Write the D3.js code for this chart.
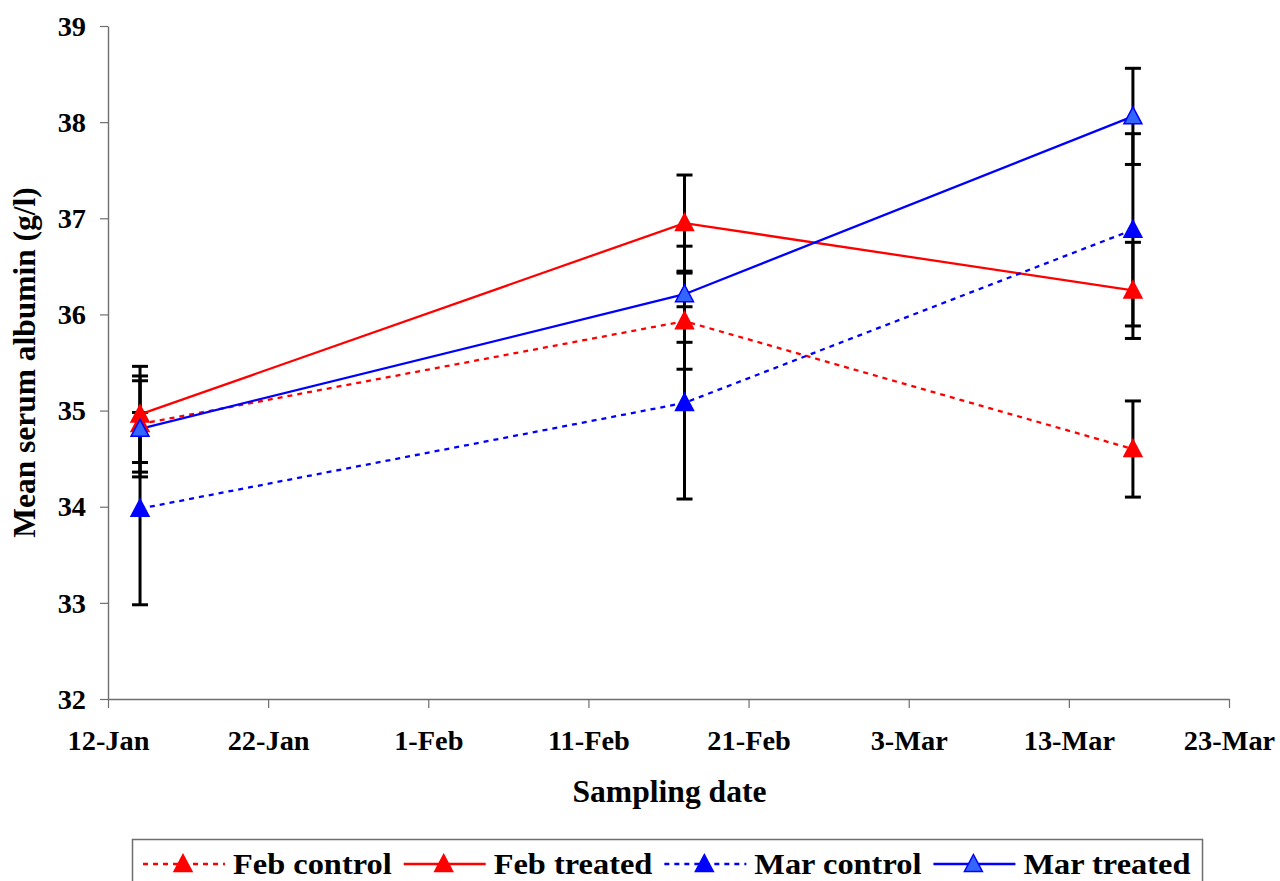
<!DOCTYPE html>
<html>
<head>
<meta charset="utf-8">
<script src="https://cdn.jsdelivr.net/npm/d3@7"></script>
<style>
  html, body { margin: 0; padding: 0; background: #fff; }
  svg { display: block; }
  text { font-family: "Liberation Serif", "Times New Roman", serif; font-weight: bold; fill: #000; }
</style>
</head>
<body>
<svg id="chart" width="1280" height="881"></svg>
<script>
// Sampling dates and tick labels
const sampleDates = ["2003-01-14", "2003-02-17", "2003-03-17"];
const tickDates = ["2003-01-12", "2003-01-22", "2003-02-01", "2003-02-11",
                   "2003-02-21", "2003-03-03", "2003-03-13", "2003-03-23"];
const yTicks = [32, 33, 34, 35, 36, 37, 38, 39];

// Mean serum albumin (g/l) per group
const febControl = [34.86, 35.93, 34.60];
const febTreated = [34.96, 36.95, 36.25];
const marControl = [33.98, 35.08, 36.88];
const marTreated = [34.81, 36.21, 38.06];

// Error bar half-widths (g/l)
const febControlErr = [0.5, 0.5, 0.5];
const febTreatedErr = [0.5, 0.5, 0.5];
const marControlErr = [1.0, 1.0, 1.0];
const marTreatedErr = [0.5, 0.5, 0.5];

const seriesNames = ["Feb control", "Feb treated", "Mar control", "Mar treated"];

const parse = d3.timeParse("%Y-%m-%d");
const fmt = d3.timeFormat("%-d-%b");

const series = [
  { name: seriesNames[0], values: febControl, err: febControlErr, stroke: "#ff0000", fill: "#ff0000", dash: "5,5" },
  { name: seriesNames[1], values: febTreated, err: febTreatedErr, stroke: "#ff0000", fill: "#ff0000", dash: null },
  { name: seriesNames[2], values: marControl, err: marControlErr, stroke: "#0000ff", fill: "#0000ff", dash: "5,5" },
  { name: seriesNames[3], values: marTreated, err: marTreatedErr, stroke: "#0000ff", fill: "#3366ff", dash: null }
];

const svg = d3.select("#chart");
const plot = { left: 108, right: 1229, top: 26, bottom: 699 };

const x = d3.scaleTime()
  .domain([parse(tickDates[0]), parse(tickDates[tickDates.length - 1])])
  .range([plot.left, plot.right]);
const y = d3.scaleLinear().domain([32, 39]).range([plot.bottom, plot.top]);

// Stretch text horizontally to the wider face used in the chart
function stretch(sel, k) {
  sel.each(function () {
    const w = this.getComputedTextLength();
    d3.select(this).attr("textLength", w * k).attr("lengthAdjust", "spacingAndGlyphs");
  });
}

// Axes
const axisColor = "#6e6e6e";
const xAxis = svg.append("g")
  .attr("transform", `translate(0,${plot.bottom})`)
  .call(d3.axisBottom(x).tickValues(tickDates.map(parse)).tickFormat(fmt).tickSize(9).tickPadding(23).tickSizeOuter(0));
const yAxis = svg.append("g")
  .attr("transform", `translate(${plot.left},0)`)
  .call(d3.axisLeft(y).tickValues(yTicks).tickFormat(d3.format("d")).tickSize(8).tickPadding(14).tickSizeOuter(0));

[xAxis, yAxis].forEach(g => {
  g.select(".domain").attr("stroke", axisColor).attr("stroke-width", 1.4);
  g.selectAll(".tick line").attr("stroke", axisColor).attr("stroke-width", 1.2);
  g.selectAll(".tick text")
    .attr("font-family", "Liberation Serif, serif")
    .attr("font-weight", "bold")
    .attr("font-size", 27)
    .attr("fill", "#000");
});
xAxis.selectAll(".tick text").attr("dy", "0.71em");
yAxis.selectAll(".tick text").attr("dy", "0.34em");
stretch(xAxis.selectAll(".tick text"), 1.05);
stretch(yAxis.selectAll(".tick text"), 1.05);

// Axis titles
svg.append("text")
  .attr("x", (plot.left + plot.right) / 2 + 1)
  .attr("y", 802)
  .attr("text-anchor", "middle")
  .attr("font-size", 31)
  .text("Sampling date")
  .call(stretch, 1.02);

svg.append("text")
  .attr("transform", `translate(35,${(plot.top + plot.bottom) / 2}) rotate(-90)`)
  .attr("text-anchor", "middle")
  .attr("font-size", 31)
  .text("Mean serum albumin (g/l)")
  .call(stretch, 1.015);

// Marker shape
const tri = "M0,-9.5L9,7.5L-9,7.5Z";
const line = d3.line().x((d, i) => x(parse(sampleDates[i]))).y(d => y(d));

// Error bars
series.forEach(s => {
  const g = svg.append("g");
  s.values.forEach((v, i) => {
    const cx = x(parse(sampleDates[i]));
    const lo = y(v - s.err[i]), hi = y(v + s.err[i]);
    g.append("line").attr("x1", cx).attr("x2", cx).attr("y1", lo).attr("y2", hi)
      .attr("stroke", "#000").attr("stroke-width", 3);
    [lo, hi].forEach(yy => g.append("line")
      .attr("x1", cx - 8).attr("x2", cx + 8).attr("y1", yy).attr("y2", yy)
      .attr("stroke", "#000").attr("stroke-width", 3));
  });
});

// Lines
series.forEach(s => {
  svg.append("path")
    .attr("d", line(s.values))
    .attr("fill", "none")
    .attr("stroke", s.stroke)
    .attr("stroke-width", 2.3)
    .attr("stroke-dasharray", s.dash);
});

// Markers
series.forEach(s => {
  svg.append("g").selectAll("path")
    .data(s.values)
    .join("path")
    .attr("d", tri)
    .attr("transform", (d, i) => `translate(${x(parse(sampleDates[i]))},${y(d)})`)
    .attr("fill", s.fill)
    .attr("stroke", s.stroke)
    .attr("stroke-width", 1.5);
});

// Legend
const legend = svg.append("g");
legend.append("rect")
  .attr("x", 132.5).attr("y", 839.5).attr("width", 1070).attr("height", 60)
  .attr("fill", "#fff").attr("stroke", "#6e6e6e").attr("stroke-width", 1.5);

let lx = 143;
const ly = 864;
series.forEach(s => {
  legend.append("line")
    .attr("x1", lx).attr("x2", lx + 82).attr("y1", ly).attr("y2", ly)
    .attr("stroke", s.stroke).attr("stroke-width", 2.3)
    .attr("stroke-dasharray", s.dash);
  legend.append("path")
    .attr("d", tri)
    .attr("transform", `translate(${lx + 40},${ly})`)
    .attr("fill", s.fill).attr("stroke", s.stroke).attr("stroke-width", 1.5);
  const t = legend.append("text")
    .attr("x", lx + 90).attr("y", ly + 10)
    .attr("font-size", 30)
    .text(s.name);
  const w = t.node().getComputedTextLength() * 1.08;
  t.attr("textLength", w).attr("lengthAdjust", "spacingAndGlyphs");
  lx = lx + 90 + w + 12;
});
</script>
</body>
</html>
